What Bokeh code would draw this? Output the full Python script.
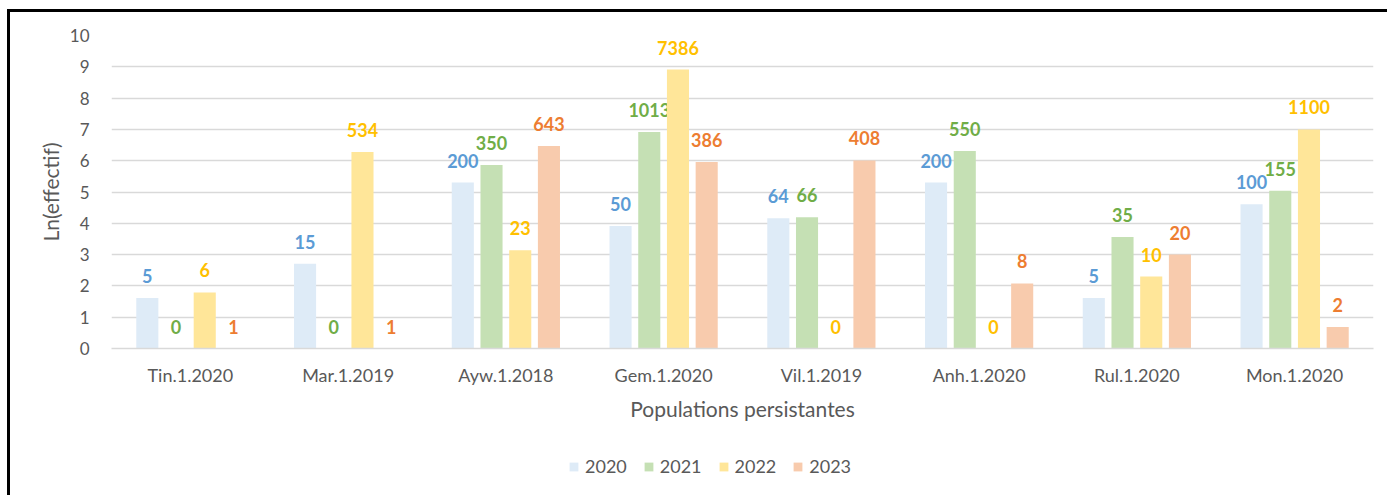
from bokeh.plotting import figure
from bokeh.models import ColumnDataSource, FactorRange, Range1d, Legend, LegendItem, FixedTicker
from bokeh.transform import dodge
from bokeh.layouts import column
from bokeh.core.properties import value
from bokeh.embed import file_html
from bokeh.resources import INLINE

categories = ["Tin.1.2020", "Mar.1.2019", "Ayw.1.2018", "Gem.1.2020",
              "Vil.1.2019", "Anh.1.2020", "Rul.1.2020", "Mon.1.2020"]
years = ["2020", "2021", "2022", "2023"]

# counts shown as labels
counts_2020 = [5, 15, 200, 50, 64, 200, 5, 100]
counts_2021 = [0, 0, 350, 1013, 66, 550, 35, 155]
counts_2022 = [6, 534, 23, 7386, 0, 0, 10, 1100]
counts_2023 = [1, 1, 643, 386, 408, 8, 20, 2]

# bar heights: Ln(effectif) (None = no bar)
ln_2020 = [1.61, 2.71, 5.30, 3.91, 4.16, 5.30, 1.61, 4.61]
ln_2021 = [None, None, 5.86, 6.92, 4.19, 6.31, 3.56, 5.04]
ln_2022 = [1.79, 6.28, 3.14, 8.91, None, None, 2.30, 7.00]
ln_2023 = [0.0, 0.0, 6.47, 5.96, 6.01, 2.08, 3.00, 0.69]

counts = [counts_2020, counts_2021, counts_2022, counts_2023]
lns = [ln_2020, ln_2021, ln_2022, ln_2023]
fill_colors = ["#DEEBF7", "#C5E0B4", "#FFE699", "#F8CBAD"]
label_colors = ["#5B9BD5", "#70AD47", "#FFC000", "#ED7D31"]
offsets = [-0.273, -0.091, 0.091, 0.273]

FONT = "Lato"
GREY = "#595959"
W = 1377

p = figure(x_range=FactorRange(*categories), y_range=Range1d(0, 10),
           width=W, height=426, output_backend="svg", toolbar_location=None,
           min_border_left=101, min_border_right=14, min_border_top=23,
           min_border_bottom=90)
p.outline_line_color = None
p.background_fill_color = "white"
p.border_fill_color = "white"

for i, y in enumerate(years):
    tops = [float("nan") if v is None else v for v in lns[i]]
    ly = [0.0 if v is None else v for v in lns[i]]
    src = ColumnDataSource(dict(cat=categories, top=tops, ly=ly,
                                lbl=[str(c) for c in counts[i]]))
    p.vbar(x=dodge("cat", offsets[i], range=p.x_range), top="top", bottom=0,
           width=0.14, source=src, fill_color=fill_colors[i], line_color=None)
    p.text(x=dodge("cat", offsets[i], range=p.x_range), y="ly", text="lbl", source=src,
           text_align="center", text_baseline="alphabetic", y_offset=-22,
           text_font=value(FONT), text_font_style="bold", text_font_size="18px",
           text_color=label_colors[i])

p.xgrid.grid_line_color = None
p.ygrid.grid_line_color = "#D9D9D9"
p.ygrid.grid_line_width = 1.3
p.yaxis.ticker = FixedTicker(ticks=list(range(0, 11)))

for ax in (p.xaxis, p.yaxis):
    ax.major_tick_line_color = None
    ax.minor_tick_line_color = None
    ax.major_label_text_font = FONT
    ax.major_label_text_color = GREY
    ax.axis_label_text_font = FONT
    ax.axis_label_text_font_style = "normal"
    ax.axis_label_text_color = GREY

p.yaxis.axis_line_color = None
p.yaxis.major_label_text_font_size = "17px"
p.yaxis.major_label_standoff = 16
p.yaxis.axis_label = "Ln(effectif)"
p.yaxis.axis_label_text_font_size = "21px"
p.yaxis.axis_label_standoff = 4

p.xaxis.axis_line_color = "#D9D9D9"
p.xaxis.axis_line_width = 1.3
p.xaxis.major_label_text_font_size = "18px"
p.xaxis.major_label_standoff = 9
p.xaxis.axis_label = "Populations persistantes"
p.xaxis.axis_label_text_font_size = "21px"
p.xaxis.axis_label_standoff = 7

# legend strip
q = figure(width=W, height=57, x_range=Range1d(0, 1), y_range=Range1d(0, 1),
           output_backend="svg", toolbar_location=None, min_border=0,
           x_axis_location=None, y_axis_location=None)
q.outline_line_color = None
q.xgrid.grid_line_color = None
q.ygrid.grid_line_color = None
leg_renderers = []
for i in range(4):
    leg_renderers.append(q.vbar(x=[-5], top=[-5], bottom=[-6], width=0.1,
                                fill_color=fill_colors[i], line_color=None))
legend = Legend(items=[LegendItem(label=years[i], renderers=[leg_renderers[i]]) for i in range(4)],
                orientation="horizontal", location=(457, 18),
                glyph_width=11, glyph_height=11, label_standoff=6, spacing=16,
                padding=0, margin=0, border_line_color=None, background_fill_alpha=0,
                label_text_font=FONT, label_text_font_size="18px",
                label_text_color=GREY)
q.add_layout(legend, "center")

layout = column(p, q, spacing=0)
layout.styles = {"margin-left": "7px", "margin-top": "9px",
                 "border-top": "3px solid black", "border-left": "3px solid black"}

open("out.html", "w").write(file_html(layout, INLINE))
